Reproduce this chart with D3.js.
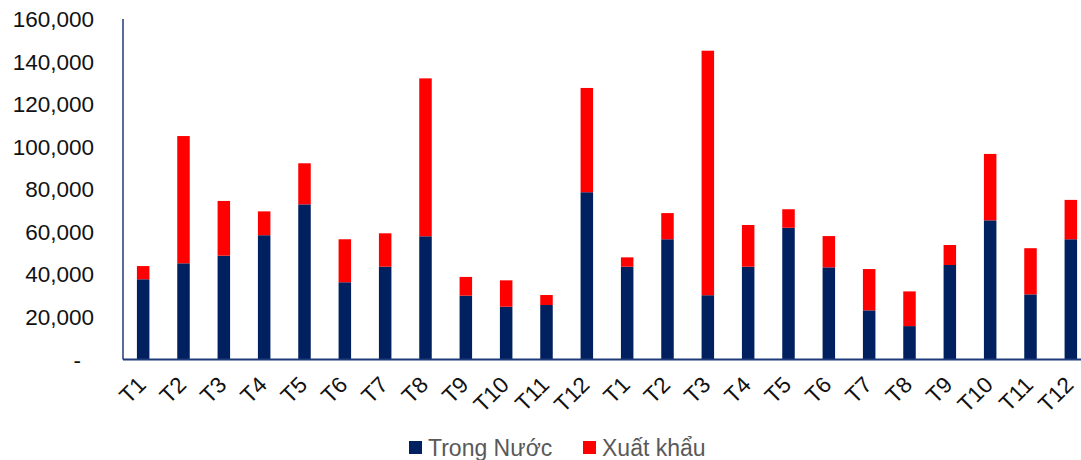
<html>

<body>
    <svg id='viz'></svg>
</body>
<style>
    body {
        margin: 0;
        background: #fff;
    }

    svg {
        display: block;
    }

    text {
        font-family: "Liberation Sans", Arial, sans-serif;
    }
</style>
<script src='https://d3js.org/d3.v7.min.js'></script>
<script>
    var width = 1081;
    var height = 460;

    // months, two years in a row
    var months = ["T1", "T2", "T3", "T4", "T5", "T6", "T7", "T8", "T9", "T10", "T11", "T12",
        "T1", "T2", "T3", "T4", "T5", "T6", "T7", "T8", "T9", "T10", "T11", "T12"];
    var seriesNames = ["Trong Nước", "Xuất khẩu"];
    var seriesColors = ["#002060", "#ff0000"];
    var domestic = [37700, 45200, 48800, 58400, 72900, 36300, 43600, 57900, 30000, 24800, 25600, 78600,
        43600, 56500, 30200, 43600, 61900, 43300, 23100, 15700, 44400, 65400, 30600, 56500];
    var exported = [6200, 59800, 25700, 11200, 19300, 20200, 15700, 74200, 8800, 12400, 4700, 49000,
        4400, 12300, 114900, 19600, 8700, 14700, 19400, 16300, 9400, 31200, 21700, 18500];
    var yTicks = [0, 20000, 40000, 60000, 80000, 100000, 120000, 140000, 160000];

    var rows = months.map(function (m, i) {
        return { key: i, month: m, dom: domestic[i], exp: exported[i] };
    });

    var plotLeft = 123, plotRight = 1091, plotTop = 19, plotBottom = 359.5;

    var x = d3.scaleBand()
        .domain(rows.map(function (d) { return d.key; }))
        .range([plotLeft, plotRight])
        .paddingInner(0.69)
        .paddingOuter(0.345);

    var y = d3.scaleLinear().domain([0, 160000]).range([plotBottom, plotTop]);

    var layers = d3.stack().keys(["dom", "exp"])(rows);

    var svg = d3.select("#viz").attr("width", width).attr("height", height);

    svg.append("g")
        .selectAll("g")
        .data(layers)
        .enter().append("g")
        .attr("fill", function (d, i) { return seriesColors[i]; })
        .selectAll("rect")
        .data(function (d) { return d; })
        .enter().append("rect")
        .attr("x", function (d) { return x(d.data.key); })
        .attr("y", function (d) { return y(d[1]); })
        .attr("width", x.bandwidth())
        .attr("height", function (d) { return y(d[0]) - y(d[1]); });

    // axis lines
    svg.append("line")
        .attr("x1", plotLeft).attr("x2", plotLeft)
        .attr("y1", plotTop).attr("y2", plotBottom)
        .attr("stroke", "#1f3b7a").attr("stroke-width", 1.5);
    svg.append("line")
        .attr("x1", plotLeft).attr("x2", width)
        .attr("y1", plotBottom).attr("y2", plotBottom)
        .attr("stroke", "#1f3b7a").attr("stroke-width", 2);

    // y labels
    var fmt = d3.format(",");
    svg.append("g").selectAll("text")
        .data(yTicks)
        .enter().append("text")
        .attr("x", function (d) { return d === 0 ? 81 : 94; })
        .attr("y", function (d) { return y(d); })
        .attr("dy", "0.36em")
        .attr("text-anchor", "end")
        .attr("font-size", 22.5)
        .attr("fill", "#111")
        .text(function (d) { return d === 0 ? "-" : fmt(d); });

    // x labels
    svg.append("g").selectAll("text")
        .data(rows)
        .enter().append("text")
        .attr("transform", function (d) {
            var cx = x(d.key) + x.bandwidth() / 2;
            return "translate(" + (cx - 7) + "," + 375 + ") rotate(-45)";
        })
        .attr("text-anchor", "end")
        .attr("dy", "0.7em")
        .attr("font-size", 22.5)
        .attr("fill", "#111")
        .text(function (d) { return d.month; });

    // legend
    var legendX = [409, 583];
    var legend = svg.append("g").selectAll("g")
        .data(seriesNames)
        .enter().append("g")
        .attr("transform", function (d, i) { return "translate(" + legendX[i] + ",441)"; });
    legend.append("rect")
        .attr("width", 13).attr("height", 13)
        .attr("fill", function (d, i) { return seriesColors[i]; });
    legend.append("text")
        .attr("x", 19).attr("y", 15)
        .attr("font-size", 23)
        .attr("fill", "#595959")
        .text(function (d) { return d; });
</script>

</html>
